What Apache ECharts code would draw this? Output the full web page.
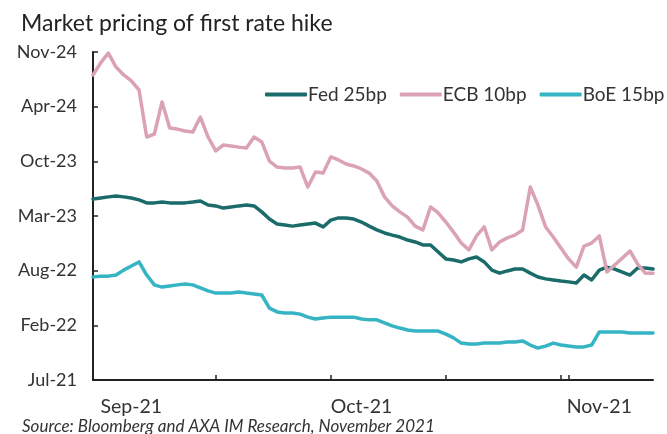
<!DOCTYPE html>
<html>
<head>
<meta charset="utf-8">
<script src="https://cdn.jsdelivr.net/npm/echarts@6/dist/echarts.min.js"></script>
<style>
  html, body { margin: 0; padding: 0; background: #fff; }
  #chart { width: 667px; height: 434px; }
</style>
</head>
<body>
<div id="chart"></div>
<script>
// Trading dates, 27 Aug to 8 Nov 2021 (calendar days)
const dates = [
  '2021-08-27','2021-08-28','2021-08-29','2021-08-30','2021-08-31',
  '2021-09-01','2021-09-02','2021-09-03','2021-09-04','2021-09-05','2021-09-06','2021-09-07','2021-09-08','2021-09-09','2021-09-10',
  '2021-09-11','2021-09-12','2021-09-13','2021-09-14','2021-09-15','2021-09-16','2021-09-17','2021-09-18','2021-09-19','2021-09-20',
  '2021-09-21','2021-09-22','2021-09-23','2021-09-24','2021-09-25','2021-09-26','2021-09-27','2021-09-28','2021-09-29','2021-09-30',
  '2021-10-01','2021-10-02','2021-10-03','2021-10-04','2021-10-05','2021-10-06','2021-10-07','2021-10-08','2021-10-09','2021-10-10',
  '2021-10-11','2021-10-12','2021-10-13','2021-10-14','2021-10-15','2021-10-16','2021-10-17','2021-10-18','2021-10-19','2021-10-20',
  '2021-10-21','2021-10-22','2021-10-23','2021-10-24','2021-10-25','2021-10-26','2021-10-27','2021-10-28','2021-10-29','2021-10-30',
  '2021-10-31','2021-11-01','2021-11-02','2021-11-03','2021-11-04','2021-11-05','2021-11-06','2021-11-07','2021-11-08'
];

// Priced date of first hike, in days after 24 Jul 2021
const fed25bp = [
  662, 666, 670, 673, 670, 666, 659, 648, 648, 651,
  648, 648, 648, 651, 655, 640, 637, 629, 633, 637,
  640, 637, 615, 589, 571, 567, 563, 567, 571, 574,
  560, 585, 593, 593, 589, 578, 563, 549, 538, 530,
  523, 512, 505, 494, 494, 468, 443, 439, 432, 443,
  450, 432, 402, 391, 399, 406, 406, 391, 377, 370,
  366, 362, 359, 355, 384, 366, 402, 413, 406, 395,
  384, 410, 410, 406
];
const ecb10bp = [
  1116, 1160, 1196, 1145, 1116, 1094, 1061, 889, 900, 1017,
  922, 918, 911, 907, 962, 889, 838, 860, 856, 852,
  849, 889, 871, 801, 779, 776, 776, 779, 706, 761,
  757, 816, 805, 790, 783, 772, 757, 728, 670, 637,
  615, 596, 563, 549, 633, 611, 578, 541, 501, 476,
  527, 560, 476, 505, 520, 530, 549, 706, 640, 560,
  523, 483, 443, 413, 490, 501, 527, 395, 421, 446,
  472, 424, 391, 391
];
const boe15bp = [
  377, 380, 380, 384, 402, 417, 432, 384, 348, 340,
  344, 348, 351, 348, 337, 326, 318, 318, 318, 322,
  318, 315, 311, 263, 249, 245, 245, 241, 230, 223,
  227, 230, 230, 230, 230, 223, 220, 220, 209, 198,
  190, 183, 179, 179, 179, 179, 168, 154, 135, 132,
  132, 135, 135, 135, 139, 139, 143, 128, 117, 124,
  135, 128, 124, 121, 121, 128, 176, 176, 176, 176,
  172, 172, 172, 172
];

// Value-axis tick labels (one every 200 days from 24 Jul 2021)
const yTickLabels = ['Jul-21', 'Feb-22', 'Aug-22', 'Mar-23', 'Oct-23', 'Apr-24', 'Nov-24'];
const seriesNames = ['Fed 25bp', 'ECB 10bp', 'BoE 15bp'];
const tickDates = ['2021-09-12', '2021-09-27', '2021-10-12', '2021-10-27', '2021-10-28'];
const monthNames = ['Jan','Feb','Mar','Apr','May','Jun','Jul','Aug','Sep','Oct','Nov','Dec'];

const FONT = 'Lato';
const chart = echarts.init(document.getElementById('chart'), null, { renderer: 'canvas' });

function monthLabel(d) {
  const [y, m] = d.split('-');
  return monthNames[parseInt(m, 10) - 1] + '-' + y.slice(2);
}

function lineSeries(name, data, color) {
  return {
    name: name,
    type: 'line',
    data: data,
    symbol: 'none',
    clip: false,
    lineStyle: { color: color, width: 3.5, cap: 'round', join: 'round' },
    itemStyle: { color: color }
  };
}

chart.setOption({
  backgroundColor: '#ffffff',
  animation: false,
  title: {
    text: 'Market pricing of first rate hike',
    left: 16,
    top: 7,
    textStyle: { fontFamily: FONT, fontSize: 23, fontWeight: 'normal', color: '#222' }
  },
  legend: {
    data: seriesNames,
    orient: 'horizontal',
    left: 265,
    top: 85,
    width: 480,
    padding: 0,
    itemWidth: 42,
    itemHeight: 4,
    itemGap: 13,
    icon: 'roundRect',
    textStyle: { fontFamily: FONT, fontSize: 19, color: '#333', padding: [0, 0, 0, -4] }
  },
  grid: { left: 93, right: 14, top: 52, bottom: 54, containLabel: false },
  xAxis: {
    type: 'category',
    data: dates,
    boundaryGap: false,
    axisLine: { lineStyle: { color: '#222', width: 2 } },
    axisTick: {
      inside: true,
      length: 5,
      lineStyle: { color: '#222', width: 1.5 },
      interval: (idx, val) => tickDates.indexOf(val) >= 0
    },
    axisLabel: {
      interval: (idx, val) => val.endsWith('-01'),
      formatter: monthLabel,
      margin: 17,
      fontFamily: FONT,
      fontSize: 19.5,
      color: '#333'
    },
    splitLine: { show: false }
  },
  yAxis: {
    type: 'value',
    min: 0,
    max: 1200,
    interval: 200,
    axisLine: { show: true, lineStyle: { color: '#222', width: 2 } },
    axisTick: { show: true, inside: true, length: 5, lineStyle: { color: '#222', width: 1.5 } },
    axisLabel: {
      formatter: v => yTickLabels[Math.round(v / 200)],
      margin: 16,
      fontFamily: FONT,
      fontSize: 18,
      color: '#333'
    },
    splitLine: { show: false }
  },
  series: [
    lineSeries(seriesNames[0], fed25bp, '#1b6b6a'),
    lineSeries(seriesNames[1], ecb10bp, '#dba2b5'),
    lineSeries(seriesNames[2], boe15bp, '#35b4c3')
  ],
  graphic: [{
    type: 'text',
    left: 22,
    top: 418,
    style: {
      text: 'Source: Bloomberg and AXA IM Research, November 2021',
      fontFamily: FONT,
      fontStyle: 'italic',
      fontSize: 17,
      fill: '#333'
    }
  }]
});
</script>
</body>
</html>
